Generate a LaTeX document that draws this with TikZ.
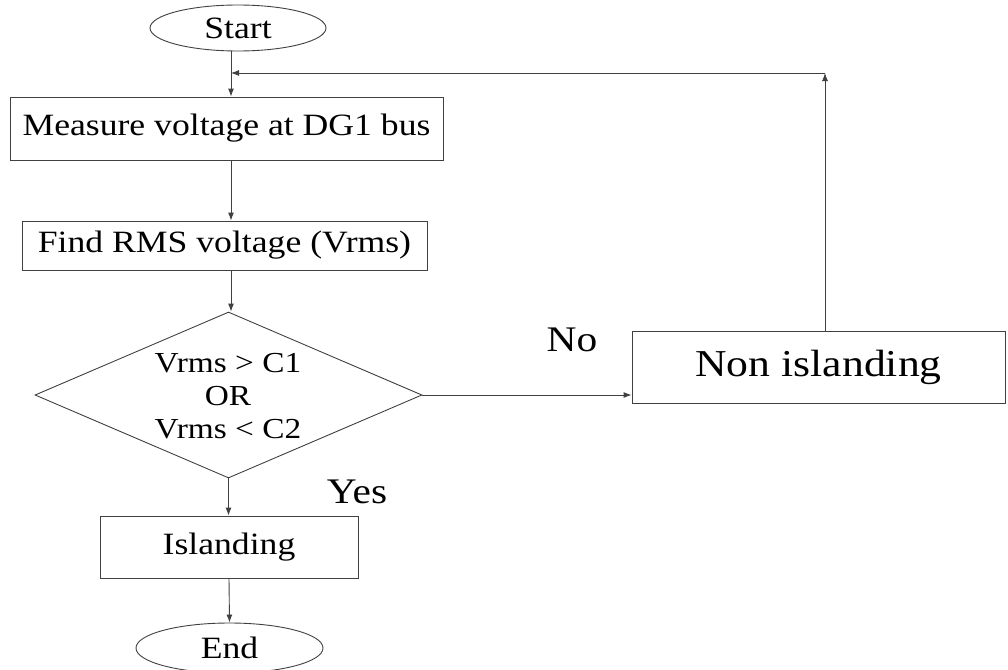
\documentclass[tikz,border=0pt]{standalone}
\usepackage{fontspec}
\setmainfont{Liberation Serif}
\usetikzlibrary{shapes.geometric,arrows.meta}
\newcommand{\sx}[1]{\scalebox{1.15}[1]{#1}}
\begin{document}
\begin{tikzpicture}[x=1pt,y=-1pt,
  line/.style={draw=black!75, line width=0.9pt},
  arr/.style={line, -{Latex[length=8pt,width=6pt]}},
  boxnode/.style={line, rectangle, inner sep=0pt, font=\fontsize{31}{36}\selectfont},
  term/.style={line, ellipse, inner sep=0pt, font=\fontsize{31}{36}\selectfont},
  lab/.style={font=\fontsize{36}{40}\selectfont}]
\useasboundingbox (0,0) rectangle (1008,669);
\clip (0,0) rectangle (1008,669);
\node[term, minimum width=176pt, minimum height=46pt] (start) at (238,28) {\sx{Start}};
\node[boxnode, minimum width=433pt, minimum height=63pt] (meas) at (226.5,128.5) {\sx{Measure voltage at DG1 bus}};
\node[boxnode, minimum width=405pt, minimum height=49pt] (rms) at (224.5,245.5) {\sx{Find RMS voltage (Vrms)}};
\node[line, diamond, inner sep=0pt, minimum width=387pt, minimum height=166pt] (dec) at (228.5,395) {};
\node[font=\fontsize{29}{33}\selectfont, align=center] (dectext) at (228,396) {\sx{Vrms \textgreater{} C1}\\\sx{OR}\\\sx{Vrms \textless{} C2}};
\node[boxnode, minimum width=373pt, minimum height=72pt, font=\fontsize{38}{42}\selectfont] (non) at (818.5,367) {\sx{Non islanding}};
\node[boxnode, minimum width=258pt, minimum height=62pt] (isl) at (229,547) {\sx{Islanding}};
\node[term, minimum width=187pt, minimum height=50pt] (end) at (229.5,648) {\sx{End}};
\node[lab] (no) at (572,340) {\sx{No}};
\node[lab] (yes) at (357,492) {\sx{Yes}};
\coordinate (join) at (231,73);
\coordinate (corner) at (825,73);
\draw[arr] (start.south -| join) -- (meas.north -| join);
\draw[arr] (corner) -- (join);
\draw[arr] (meas.south -| join) -- (rms.north -| join);
\draw[arr] (rms.south -| join) -- (dec.north -| join);
\draw[arr] (dec.east) -- (non.west |- dec.east);
\draw[arr] (non.north -| corner) -- (corner);
\draw[arr] (dec.south) -- (isl.north -| dec.south);
\draw[arr] (isl.south) -- (end.north);
\end{tikzpicture}
\end{document}
